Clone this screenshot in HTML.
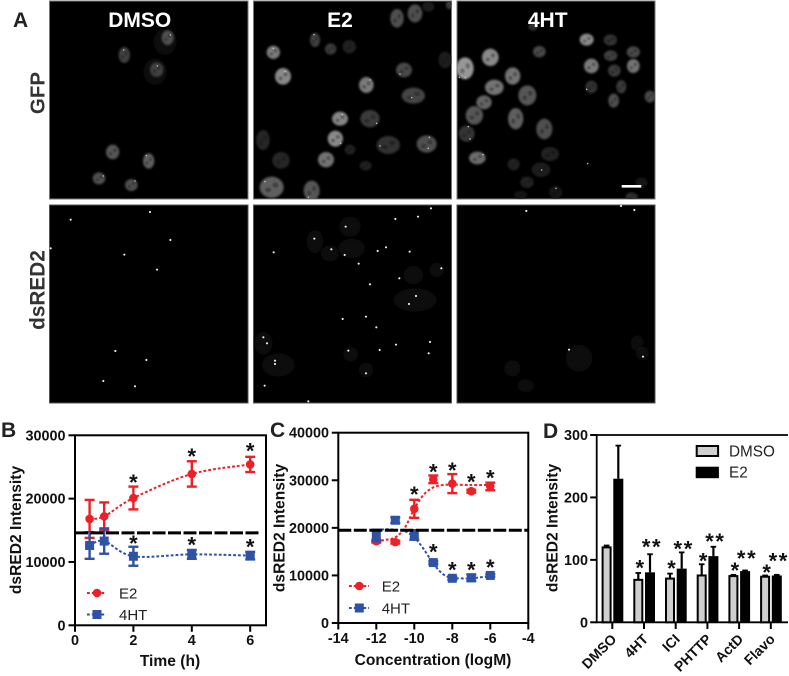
<!DOCTYPE html>
<html>
<head>
<meta charset="utf-8">
<title>dsRED2 intensity figure</title>
<style>
html,body{margin:0;padding:0;background:#fff;width:789px;height:676px;overflow:hidden}
svg{display:block}
text{font-family:"Liberation Sans",sans-serif}
</style>
</head>
<body>
<svg id="fig" xmlns="http://www.w3.org/2000/svg" width="789" height="676" viewBox="0 0 789 676">
<defs>
<filter id="soft" x="-30%" y="-30%" width="160%" height="160%"><feGaussianBlur stdDeviation="3.5"/></filter>
<filter id="inner" x="-60%" y="-60%" width="220%" height="220%"><feGaussianBlur stdDeviation="2.2"/></filter>
<filter id="halo" x="-30%" y="-30%" width="160%" height="160%"><feGaussianBlur stdDeviation="7"/></filter>
<filter id="dotblur" x="-100%" y="-100%" width="300%" height="300%"><feGaussianBlur stdDeviation="1"/></filter>
<clipPath id="micro-clip">
<rect x="49.5" y="1" width="198.5" height="198"/><rect x="253.5" y="1" width="198" height="198"/><rect x="457" y="1" width="198" height="198"/>
<rect x="49.5" y="205" width="198.5" height="198"/><rect x="253.5" y="205" width="198" height="198"/><rect x="457" y="205" width="198" height="198"/>
</clipPath>
</defs>
<g>
<rect x="49.5" y="1" width="198.5" height="198" fill="#000" stroke="#777" stroke-width="1"/>
<rect x="253.5" y="1" width="198" height="198" fill="#000" stroke="#777" stroke-width="1"/>
<rect x="457" y="1" width="198" height="198" fill="#000" stroke="#777" stroke-width="1"/>
<rect x="49.5" y="205" width="198.5" height="198" fill="#000" stroke="#555" stroke-width="1"/>
<rect x="253.5" y="205" width="198" height="198" fill="#000" stroke="#555" stroke-width="1"/>
<rect x="457" y="205" width="198" height="198" fill="#000" stroke="#555" stroke-width="1"/>
<g clip-path="url(#micro-clip)"><g id="cells" transform="scale(0.33333)"></g></g>
<rect x="621.7" y="185" width="19.6" height="2.6" fill="#fff"/>
</g>
<g font-weight="bold">
<text x="13" y="27" font-size="21" fill="#222">A</text>
<text x="139.7" y="27" font-size="21" fill="#fff" text-anchor="middle">DMSO</text>
<text x="340" y="27" font-size="21" fill="#fff" text-anchor="middle">E2</text>
<text x="547.7" y="27" font-size="21" fill="#fff" text-anchor="middle">4HT</text>
<text transform="translate(44.5,93) rotate(-90)" font-size="20.5" fill="#333" text-anchor="middle">GFP</text>
<text transform="translate(44.5,290) rotate(-90)" font-size="20.8" fill="#333" text-anchor="middle">dsRED2</text>
<text x="1" y="437" font-size="21" fill="#222">B</text>
<text x="270" y="437" font-size="21" fill="#222">C</text>
<text x="543" y="438" font-size="21" fill="#222">D</text>
</g>
<g id="chart-b"></g>
<g id="chart-c"></g>
<g id="chart-d"></g>
</svg>
<script>
// Panel B data
var bTimes = [0.5, 1, 2, 4, 6];
var bE2 = [16800, 17200, 20100, 23900, 25400];
var bE2Err = [3000, 2200, 1800, 2000, 1200];
var b4HT = [12600, 13300, 10900, 11200, 11000];
var b4HTErr = [2100, 2000, 1500, 700, 600];
var bXTicks = [0, 2, 4, 6];
var bYTicks = [0, 10000, 20000, 30000];
var bBaseline = 14600;
var bE2StarX = [2, 4, 6];
var bE2StarY = [22900, 27000, 27800];
var b4HTStarX = [2, 4, 6];
var b4HTStarY = [13200, 13000, 12700];

// Panel C data
var cConc = [-12, -11, -10, -9, -8, -7, -6];
var cE2 = [17200, 17000, 24000, 30200, 29300, 27700, 28700];
var cE2Err = [300, 300, 1900, 800, 2000, 300, 800];
var c4HT = [18400, 21600, 18500, 12700, 9400, 9500, 10000];
var c4HTErr = [1200, 600, 1000, 300, 300, 700, 300];
var cFitX = [-12, -11.5, -11, -10.5, -10, -9.5, -9, -8.5, -8, -7, -6];
var cFitE2 = [17200, 17500, 18000, 20000, 24000, 27000, 28500, 29000, 29100, 29000, 29000];
var cFit4HT = [19500, 19700, 19600, 19300, 18000, 15500, 12500, 10300, 9500, 9400, 9900];
var cXTicks = [-14, -12, -10, -8, -6, -4];
var cYTicks = [0, 10000, 20000, 30000, 40000];
var cBaseline = 19500;
var cE2StarX = [-10, -9, -8, -7, -6];
var cE2StarY = [27470, 32160, 32500, 30050, 30900];
var c4HTStarX = [-9, -8, -7, -6];
var c4HTStarY = [15340, 11600, 11600, 12050];

// Panel D data
var dGroups = ['DMSO', '4HT', 'ICI', 'PHTTP', 'ActD', 'Flavo'];
var dDmso = [120, 68, 70, 75, 74, 73];
var dDmsoErr = [3, 11, 8, 18, 2, 2];
var dE2 = [230, 80, 86, 106, 82, 75];
var dE2Err = [53, 29, 26, 15, 1, 1];
var dYTicks = [0, 100, 200, 300];
var dSingleStars = [null, 90, 89, 101, 86, 83];
var dDoubleStars = [null, 124, 121, 133, 105, 101];

// Micrograph cell appearance: [x, y, rx, ry, gray]
var gfpCells = [[503,113,18,22,110],[373,165,17,24,90],[470,209,20,22,90],[338,456,20,22,120],[446,483,17,23,130],[297,535,19,18,110],[394,555,19,18,110],
[820,157,20,20,170],[849,229,24,25,190],[945,120,15,21,90],[992,147,17,17,80],[1048,140,20,20,50],[1099,255,22,24,170],[1020,356,24,21,185],[1110,356,29,26,80],[1006,416,23,24,190],[789,420,20,30,55],[843,481,26,25,55],[978,479,24,23,160],[1050,449,16,15,45],[1097,497,18,14,45],[815,562,36,32,130],[935,572,24,30,120],[1165,435,35,27,70],[1191,55,20,28,110],[1245,40,22,27,110],[1212,210,24,22,100],[1335,180,20,25,40],[1240,287,35,24,95],[1280,432,30,26,110],[1348,15,10,12,90],[1285,20,18,15,40],
[1395,205,26,33,210],[1471,172,25,26,190],[1618,155,19,17,100],[1760,119,21,18,190],[1831,120,20,17,70],[1832,167,20,16,90],[1900,156,20,17,100],[1774,198,22,22,170],[1900,198,19,21,160],[1843,212,19,18,80],[1538,228,23,26,160],[1483,262,28,23,160],[1582,286,27,30,120],[1774,261,18,19,70],[1864,260,15,20,80],[1841,302,16,21,110],[1950,290,16,18,100],[1452,307,23,21,140],[1423,346,26,28,120],[1547,356,23,32,130],[1633,387,24,31,110],[1400,401,24,24,75],[1432,474,25,19,150],[1650,462,27,21,45],[1541,493,18,18,50],[1623,509,28,22,40],[1581,547,20,17,50],[1667,577,20,20,25],[1895,590,18,12,70],[1924,548,18,16,35],[1599,80,14,12,70],[1562,585,20,12,25]];
var gfpDots = [[511,105],[371,150],[472,198],[439,467],[310,528],[405,543],[820,145],[855,215],[942,104],[1110,240],[1027,344],[1130,370],[1022,430],[795,545],[925,592],[1140,438],[1235,293],[1288,412],[1285,445],[1200,222],[1396,233],[1378,232],[1405,380],[1410,417],[1449,464],[1763,491],[1625,510],[1668,565],[1760,268]];
var redHalos = [[495,125,35,40,18],[372,175,28,50,14],[465,215,35,40,18],[345,465,35,30,12],[447,495,22,30,12],[302,548,30,22,14],[385,568,32,22,12],
[1050,680,32,30,28],[945,725,25,35,26],[990,760,28,25,22],[1055,745,40,30,22],[845,840,35,40,14],[790,1030,28,35,16],[835,1095,50,35,20],[1052,1063,22,22,35],[1098,1110,22,22,35],[1100,960,40,35,12],[1240,825,30,28,20],[1245,900,65,35,25],[1310,810,22,22,18],
[1737,1075,40,40,38],[1537,1105,25,25,18],[1577,1157,25,20,22],[1912,1030,20,25,18],[1927,1060,20,20,24],[1842,825,22,22,14],[1867,870,22,22,12]];
var redDots = [[450,636],[212,659],[511,720],[373,764],[471,809],[346,1053],[439,1080],[310,1143],[405,1159],[152,745],
[1037,680],[943,716],[994,748],[1034,765],[1133,753],[1158,742],[1186,657],[1076,791],[821,757],[1198,835],[1110,853],[1098,950],[1129,982],[1028,957],[1188,1034],[1139,1050],[1045,1052],[1098,1120],[790,1012],[801,1030],[825,1082],[825,1092],[794,1157],[925,1204],[1254,650],[1293,625],[1229,755],[1324,805],[1248,888],[1227,912],[1290,1026],[1286,1060],
[1929,1070],[1707,1049],[1579,633],[1903,630],[1863,618]];

var NS = 'http://www.w3.org/2000/svg';
function mk(parent, tag, attrs, name, txt) {
  var el = document.createElementNS(NS, tag);
  for (var k in attrs) el.setAttribute(k, attrs[k]);
  
  
  if (txt !== undefined) el.textContent = txt;
  parent.appendChild(el);
  return el;
}
function gray(v) { v = Math.round(v); return 'rgb(' + v + ',' + v + ',' + v + ')'; }

// Micrographs
var cellsG = document.getElementById('cells');
redHalos.forEach(function (c) {
  mk(cellsG, 'ellipse', {cx: c[0], cy: c[1], rx: c[2], ry: c[3], fill: gray(c[4] * 0.42), filter: 'url(#halo)'}, 'dsred2-cell');
});
gfpCells.forEach(function (c) {
  var v = c[4] * 0.72;
  mk(cellsG, 'ellipse', {cx: c[0], cy: c[1], rx: c[2], ry: c[3], fill: gray(v), filter: 'url(#soft)'}, 'gfp-nucleus');
  mk(cellsG, 'ellipse', {cx: c[0] + c[2] * 0.32, cy: c[1] - c[3] * 0.22, rx: c[2] * 0.26, ry: c[3] * 0.26, fill: gray(v * 0.72), filter: 'url(#inner)'}, 'gfp-nucleolus');
  mk(cellsG, 'ellipse', {cx: c[0] - c[2] * 0.3, cy: c[1] + c[3] * 0.24, rx: c[2] * 0.26, ry: c[3] * 0.24, fill: gray(v * 0.72), filter: 'url(#inner)'}, 'gfp-nucleolus');
});
gfpDots.forEach(function (d) {
  mk(cellsG, 'circle', {cx: d[0], cy: d[1], r: 2.2, fill: '#ccc', filter: 'url(#dotblur)'}, 'gfp-spot');
});
redDots.forEach(function (d) {
  mk(cellsG, 'circle', {cx: d[0], cy: d[1], r: 3.2, fill: '#eee', filter: 'url(#dotblur)'}, 'dsred2-spot');
});

function smooth(pts) {
  var d = 'M' + pts[0][0] + ' ' + pts[0][1];
  for (var i = 0; i < pts.length - 1; i++) {
    var p0 = pts[Math.max(i - 1, 0)], p1 = pts[i], p2 = pts[i + 1], p3 = pts[Math.min(i + 2, pts.length - 1)];
    var c1x = p1[0] + (p2[0] - p0[0]) / 6, c1y = p1[1] + (p2[1] - p0[1]) / 6;
    var c2x = p2[0] - (p3[0] - p1[0]) / 6, c2y = p2[1] - (p3[1] - p1[1]) / 6;
    d += 'C' + c1x + ' ' + c1y + ' ' + c2x + ' ' + c2y + ' ' + p2[0] + ' ' + p2[1];
  }
  return d;
}
function axesFrame(g, x0, x1, y0, y1, sw) {
  mk(g, 'rect', {x: x0, y: y1, width: x1 - x0, height: y0 - y1, fill: 'none', stroke: '#000', 'stroke-width': sw}, 'plot-frame');
}
function yAxis(g, ticks, sy, x0, lx) {
  ticks.forEach(function (t) {
    mk(g, 'line', {x1: x0 - 6.5, x2: x0, y1: sy(t), y2: sy(t), stroke: '#000', 'stroke-width': 2}, 'y-tick');
    mk(g, 'text', {x: lx, y: sy(t) + 5, 'font-size': 14.4, 'font-weight': 'bold', 'text-anchor': 'end', fill: '#111'}, 'y-tick-label', t);
  });
}
function xAxis(g, ticks, sx, y0, ly) {
  ticks.forEach(function (t) {
    mk(g, 'line', {x1: sx(t), x2: sx(t), y1: y0, y2: y0 + 6.5, stroke: '#000', 'stroke-width': 2}, 'x-tick');
    mk(g, 'text', {x: sx(t), y: ly, 'font-size': 14.4, 'font-weight': 'bold', 'text-anchor': 'middle', fill: '#111'}, 'x-tick-label', t);
  });
}
function errBars(g, xs, ys, es, sx, sy, col, name) {
  xs.forEach(function (x, i) {
    var px = sx(x), hi = sy(ys[i] + es[i]), lo = sy(ys[i] - es[i]);
    mk(g, 'line', {x1: px, x2: px, y1: hi, y2: lo, stroke: col, 'stroke-width': 2.4}, name + '-error-bar');
    mk(g, 'line', {x1: px - 5, x2: px + 5, y1: hi, y2: hi, stroke: col, 'stroke-width': 2.4}, name + '-error-cap');
    mk(g, 'line', {x1: px - 5, x2: px + 5, y1: lo, y2: lo, stroke: col, 'stroke-width': 2.4}, name + '-error-cap');
  });
}
function curve(g, xs, ys, sx, sy, col, name) {
  var pts = xs.map(function (x, i) { return [sx(x), sy(ys[i])]; });
  mk(g, 'path', {d: smooth(pts), fill: 'none', stroke: col, 'stroke-width': 2, 'stroke-dasharray': '2.8 2'}, name + '-curve');
}
function circleMark(g, px, py, col, name) {
  mk(g, 'circle', {cx: px, cy: py, r: 4.3, fill: col}, name);
}
function squareMark(g, px, py, col, name) {
  mk(g, 'rect', {x: px - 4.5, y: py - 4.5, width: 9, height: 9, fill: col}, name);
}
function star(g, px, py, txt, name) {
  var t = mk(g, 'text', {x: px, y: py + 9.5, 'font-size': 22, 'font-weight': 'bold', 'text-anchor': 'middle', fill: '#111'}, name, txt);
  if (txt.length > 1) t.setAttribute('letter-spacing', '1.6');
}
function legendLine(g, x, y, x1, x2, col, kind, label, lx, name) {
  mk(g, 'line', {x1: x1, x2: x2, y1: y, y2: y, stroke: col, 'stroke-width': 2, 'stroke-dasharray': '2.8 2'}, name + '-legend-line');
  if (kind === 'c') circleMark(g, x, y, col, name + '-legend-marker'); else squareMark(g, x, y, col, name + '-legend-marker');
  mk(g, 'text', {x: lx, y: y + 5.5, 'font-size': 15, fill: '#222'}, name + '-legend-label', label);
}
var RED = '#ec2027', BLUE = '#2f52a4';

// Chart B
(function () {
  var g = document.getElementById('chart-b');
  var sx = function (v) { return 75 + v * 29.2; };
  var sy = function (v) { return 625.3 - v * 190 / 30000; };
  axesFrame(g, 75, 266, 625.3, 435.3, 2);
  yAxis(g, bYTicks, sy, 75, 65.5);
  xAxis(g, bXTicks, sx, 625.3, 645);
  mk(g, 'text', {transform: 'translate(21,530) rotate(-90)', 'font-size': 15.6, 'font-weight': 'bold', 'text-anchor': 'middle', fill: '#111'}, 'y-axis-title', 'dsRED2 Intensity');
  mk(g, 'text', {x: 170, y: 666, 'font-size': 15.6, 'font-weight': 'bold', 'text-anchor': 'middle', fill: '#111'}, 'x-axis-title', 'Time (h)');
  errBars(g, bTimes, bE2, bE2Err, sx, sy, RED, 'e2');
  curve(g, bTimes, bE2, sx, sy, RED, 'e2');
  bTimes.forEach(function (x, i) { circleMark(g, sx(x), sy(bE2[i]), RED, 'e2-point'); });
  errBars(g, bTimes, b4HT, b4HTErr, sx, sy, BLUE, '4ht');
  curve(g, bTimes, b4HT, sx, sy, BLUE, '4ht');
  bTimes.forEach(function (x, i) { squareMark(g, sx(x), sy(b4HT[i]), BLUE, '4ht-point'); });
  mk(g, 'line', {x1: 75, x2: 261, y1: sy(bBaseline), y2: sy(bBaseline), stroke: '#000', 'stroke-width': 3, 'stroke-dasharray': '13 2.5'}, 'baseline-dashed-line');
  bE2StarX.forEach(function (x, i) { star(g, sx(x), sy(bE2StarY[i]), '*', 'e2-significance-star'); });
  b4HTStarX.forEach(function (x, i) { star(g, sx(x), sy(b4HTStarY[i]), '*', '4ht-significance-star'); });
  legendLine(g, 97, 593, 87, 106, RED, 'c', 'E2', 119, 'e2');
  legendLine(g, 97, 614.5, 87, 106, BLUE, 's', '4HT', 119, '4ht');
})();

// Chart C
(function () {
  var g = document.getElementById('chart-c');
  var sx = function (v) { return 338.3 + (v + 14) * 19; };
  var sy = function (v) { return 623 - v * 190.3 / 40000; };
  axesFrame(g, 338.3, 528.3, 623, 432.7, 2);
  yAxis(g, cYTicks, sy, 338.3, 329);
  xAxis(g, cXTicks, sx, 623, 643);
  mk(g, 'text', {transform: 'translate(284.5,528) rotate(-90)', 'font-size': 15.6, 'font-weight': 'bold', 'text-anchor': 'middle', fill: '#111'}, 'y-axis-title', 'dsRED2 Intensity');
  mk(g, 'text', {x: 433, y: 665, 'font-size': 15.6, 'font-weight': 'bold', 'text-anchor': 'middle', fill: '#111'}, 'x-axis-title', 'Concentration (logM)');
  errBars(g, cConc, cE2, cE2Err, sx, sy, RED, 'e2');
  curve(g, cFitX, cFitE2, sx, sy, RED, 'e2-fit');
  cConc.forEach(function (x, i) { circleMark(g, sx(x), sy(cE2[i]), RED, 'e2-point'); });
  errBars(g, cConc, c4HT, c4HTErr, sx, sy, BLUE, '4ht');
  curve(g, cFitX, cFit4HT, sx, sy, BLUE, '4ht-fit');
  cConc.forEach(function (x, i) { squareMark(g, sx(x), sy(c4HT[i]), BLUE, '4ht-point'); });
  mk(g, 'line', {x1: 338.3, x2: 528.3, y1: sy(cBaseline), y2: sy(cBaseline), stroke: '#000', 'stroke-width': 3, 'stroke-dasharray': '13 2.5'}, 'baseline-dashed-line');
  cE2StarX.forEach(function (x, i) { star(g, sx(x), sy(cE2StarY[i]), '*', 'e2-significance-star'); });
  c4HTStarX.forEach(function (x, i) { star(g, sx(x), sy(c4HTStarY[i]), '*', '4ht-significance-star'); });
  legendLine(g, 359.3, 586, 349, 369, RED, 'c', 'E2', 381.7, 'e2');
  legendLine(g, 359.3, 608, 349, 369, BLUE, 's', '4HT', 381.7, '4ht');
})();

// Chart D
(function () {
  var g = document.getElementById('chart-d');
  var sx = function (i) { return 612.3 + i * 31.7; };
  var sy = function (v) { return 622.3 - v * 187.3 / 300; };
  mk(g, 'path', {d: 'M788 435H596.7V622.3H788', fill: 'none', stroke: '#000', 'stroke-width': 1.8}, 'plot-frame');
  yAxis(g, dYTicks, sy, 596.7, 588);
  mk(g, 'text', {transform: 'translate(557.5,528) rotate(-90)', 'font-size': 15.6, 'font-weight': 'bold', 'text-anchor': 'middle', fill: '#111'}, 'y-axis-title', 'dsRED2 Intensity');
  dGroups.forEach(function (name, i) {
    var c = sx(i);
    mk(g, 'line', {x1: c, x2: c, y1: 622.3, y2: 629, stroke: '#000', 'stroke-width': 2}, 'x-tick');
    mk(g, 'text', {transform: 'translate(' + (c + 5) + ',640) rotate(-45)', 'font-size': 14, 'font-weight': 'bold', 'text-anchor': 'end', fill: '#111'}, 'x-tick-label', name);
    var gx = c - 5.7, bx = c + 6;
    mk(g, 'line', {x1: gx, x2: gx, y1: sy(dDmso[i]), y2: sy(dDmso[i] + dDmsoErr[i]), stroke: '#000', 'stroke-width': 2.2}, 'dmso-error-bar');
    mk(g, 'line', {x1: gx - 2.8, x2: gx + 2.8, y1: sy(dDmso[i] + dDmsoErr[i]), y2: sy(dDmso[i] + dDmsoErr[i]), stroke: '#000', 'stroke-width': 1.8}, 'dmso-error-cap');
    mk(g, 'rect', {x: gx - 4, y: sy(dDmso[i]), width: 8, height: 622.3 - sy(dDmso[i]), fill: '#cfcfcf', stroke: '#000', 'stroke-width': 2}, 'dmso-bar');
    mk(g, 'line', {x1: bx, x2: bx, y1: sy(dE2[i]), y2: sy(dE2[i] + dE2Err[i]), stroke: '#000', 'stroke-width': 2.2}, 'e2-error-bar');
    mk(g, 'line', {x1: bx - 2.8, x2: bx + 2.8, y1: sy(dE2[i] + dE2Err[i]), y2: sy(dE2[i] + dE2Err[i]), stroke: '#000', 'stroke-width': 1.8}, 'e2-error-cap');
    mk(g, 'rect', {x: bx - 5, y: sy(dE2[i]), width: 10, height: 622.3 - sy(dE2[i]), fill: '#000'}, 'e2-bar');
    if (dSingleStars[i] !== null) star(g, gx + 1.5, sy(dSingleStars[i]), '*', 'dmso-significance-star');
    if (dDoubleStars[i] !== null) star(g, bx + 2, sy(dDoubleStars[i]), '**', 'e2-significance-stars');
  });
  mk(g, 'rect', {x: 696.7, y: 446, width: 21.4, height: 10, fill: '#cfcfcf', stroke: '#000', 'stroke-width': 2}, 'dmso-legend-swatch');
  mk(g, 'rect', {x: 695.7, y: 466.7, width: 23.2, height: 11.5, fill: '#000'}, 'e2-legend-swatch');
  mk(g, 'text', {x: 729, y: 456.5, 'font-size': 15.3, fill: '#222'}, 'dmso-legend-label', 'DMSO');
  mk(g, 'text', {x: 729, y: 477.5, 'font-size': 15.3, fill: '#222'}, 'e2-legend-label', 'E2');
})();
</script>
</body>
</html>
